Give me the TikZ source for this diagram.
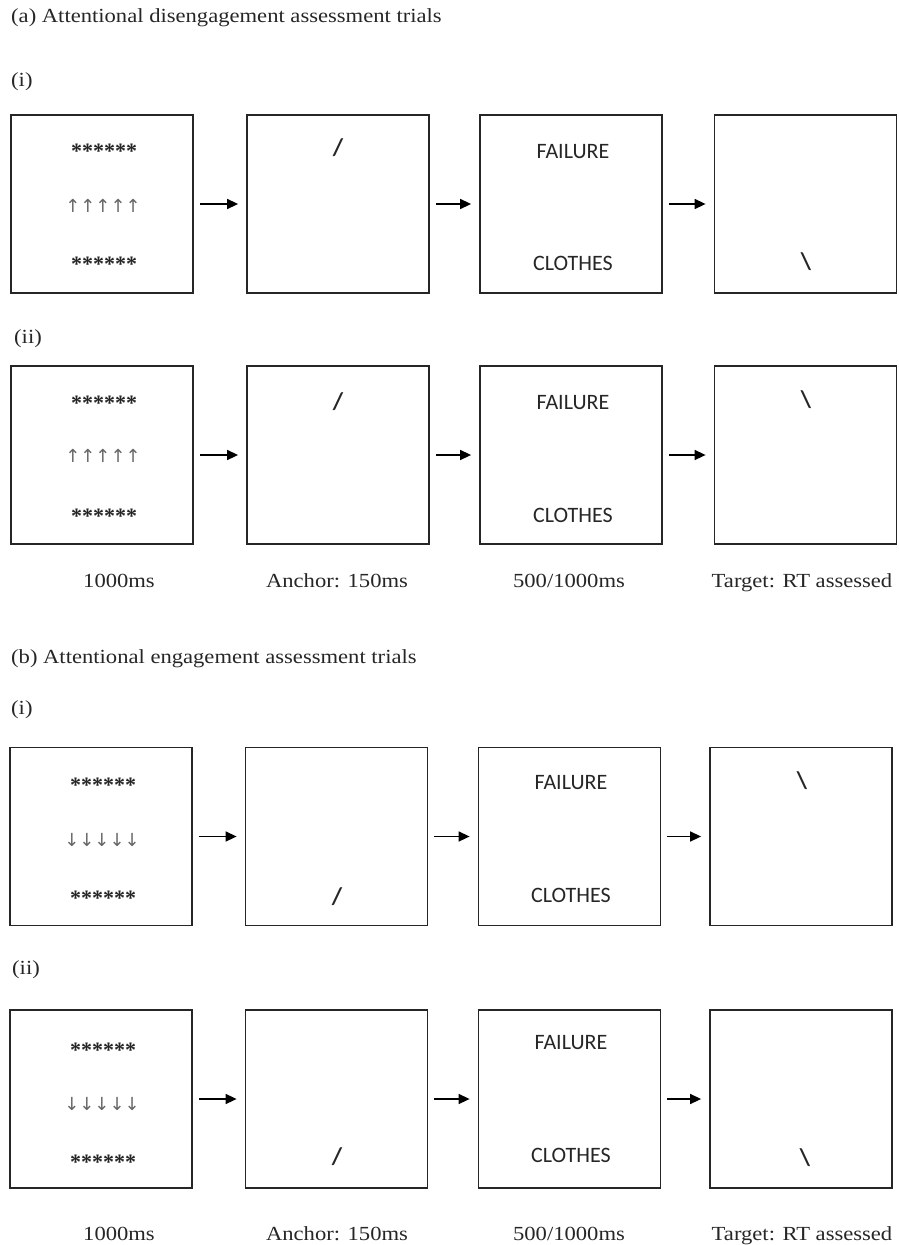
\documentclass[tikz,border=0pt]{standalone}
\usepackage{fontspec}
\setmainfont{Liberation Serif}
\newfontfamily\serifwide[FakeStretch=1.13]{Liberation Serif}
\newfontfamily\calfont{Carlito}
\newfontfamily\djvfont{DejaVu Sans}
\usetikzlibrary{arrows.meta}
\definecolor{ink}{gray}{0.15}
\begin{document}
\begin{tikzpicture}[x=1pt,y=-1pt,
  screen/.style={draw=ink, line width=1.8pt, minimum width=182pt, minimum height=178pt, inner sep=0pt},
  flow/.style={-{Triangle[length=11pt,width=10pt]}, line width=1.5pt, draw=black, shorten <=6pt, shorten >=8pt},
  lbl/.style={font=\serifwide\fontsize{20}{24}\selectfont, text=ink, inner sep=0pt, anchor=base},
  head/.style={lbl, anchor=base west},
  word/.style={font=\calfont\fontsize{22}{26}\selectfont, text=ink, inner sep=0pt},
  slashmark/.style={font=\calfont\bfseries\fontsize{24}{26}\selectfont, text=ink, inner sep=0pt},
  starrow/.style={font=\bfseries\fontsize{22}{26}\selectfont, text=ink, inner sep=0pt},
  cue/.style={font=\djvfont\fontsize{18}{20}\selectfont, text=black!60, inner sep=0pt}
]
\useasboundingbox (0,0) rectangle (899,1245);

% headings
\node[head] (ha) at (11,22) {(a) Attentional disengagement assessment trials};
\node[head] (hai) at (11,86) {(i)};
\node[head] (haii) at (14,343) {(ii)};
\node[head] (hb) at (11,663) {(b) Attentional engagement assessment trials};
\node[head] (hbi) at (11,714) {(i)};
\node[head] (hbii) at (12,974) {(ii)};

% ---------- row a(i)
\node[screen] (a1) at (102,204) {};
\node[screen] (a2) at (338,204) {};
\node[screen] (a3) at (571,204) {};
\node[screen] (a4) at (805.5,204) {};
\node[starrow] (a1t) at (104,151) {******};
\node[cue] (a1c) at (103,206) {↑↑↑↑↑};
\node[starrow] (a1b) at (104,264) {******};
\node[slashmark] (a2s) at (338,148) {/};
\node[word] (a3f) at (573,152) {FAILURE};
\node[word] (a3c) at (573,263) {CLOTHES};
\node[slashmark] (a4s) at (806,262) {\textbackslash};
\draw[flow] (a1) -- (a2);
\draw[flow] (a2) -- (a3);
\draw[flow] (a3) -- (a4);

% ---------- row a(ii)
\node[screen] (b1) at (102,455) {};
\node[screen] (b2) at (338,455) {};
\node[screen] (b3) at (571,455) {};
\node[screen] (b4) at (805.5,455) {};
\node[starrow] (b1t) at (104,403) {******};
\node[cue] (b1c) at (103,456) {↑↑↑↑↑};
\node[starrow] (b1b) at (104,516) {******};
\node[slashmark] (b2s) at (338,402) {/};
\node[word] (b3f) at (573,403) {FAILURE};
\node[word] (b3c) at (573,515) {CLOTHES};
\node[slashmark] (b4s) at (806,400) {\textbackslash};
\draw[flow] (b1) -- (b2);
\draw[flow] (b2) -- (b3);
\draw[flow] (b3) -- (b4);

% timing labels (a)
\node[lbl] (ta1) at (119,587) {1000ms};
\node[lbl] (ta2) at (337,587) {Anchor: 150ms};
\node[lbl] (ta3) at (569,587) {500/1000ms};
\node[lbl] (ta4) at (802,587) {Target: RT assessed};

% ---------- row b(i)
\node[screen] (c1) at (101,836.5) {};
\node[screen] (c2) at (336.5,836.5) {};
\node[screen] (c3) at (569.5,836.5) {};
\node[screen] (c4) at (801,836.5) {};
\node[starrow] (c1t) at (103,785) {******};
\node[cue] (c1c) at (102,840) {↓↓↓↓↓};
\node[starrow] (c1b) at (103,898) {******};
\node[slashmark] (c2s) at (337,897) {/};
\node[word] (c3f) at (571,783) {FAILURE};
\node[word] (c3c) at (571,895) {CLOTHES};
\node[slashmark] (c4s) at (802,781) {\textbackslash};
\draw[flow] (c1) -- (c2);
\draw[flow] (c2) -- (c3);
\draw[flow] (c3) -- (c4);

% ---------- row b(ii)
\node[screen] (d1) at (101,1099) {};
\node[screen] (d2) at (336.5,1099) {};
\node[screen] (d3) at (569.5,1099) {};
\node[screen] (d4) at (801,1099) {};
\node[starrow] (d1t) at (103,1050) {******};
\node[cue] (d1c) at (102,1104) {↓↓↓↓↓};
\node[starrow] (d1b) at (103,1162) {******};
\node[slashmark] (d2s) at (337,1157) {/};
\node[word] (d3f) at (571,1043) {FAILURE};
\node[word] (d3c) at (571,1155) {CLOTHES};
\node[slashmark] (d4s) at (805,1158) {\textbackslash};
\draw[flow] (d1) -- (d2);
\draw[flow] (d2) -- (d3);
\draw[flow] (d3) -- (d4);

% timing labels (b)
\node[lbl] (tb1) at (119,1240) {1000ms};
\node[lbl] (tb2) at (337,1240) {Anchor: 150ms};
\node[lbl] (tb3) at (569,1240) {500/1000ms};
\node[lbl] (tb4) at (802,1240) {Target: RT assessed};
\end{tikzpicture}
\end{document}
